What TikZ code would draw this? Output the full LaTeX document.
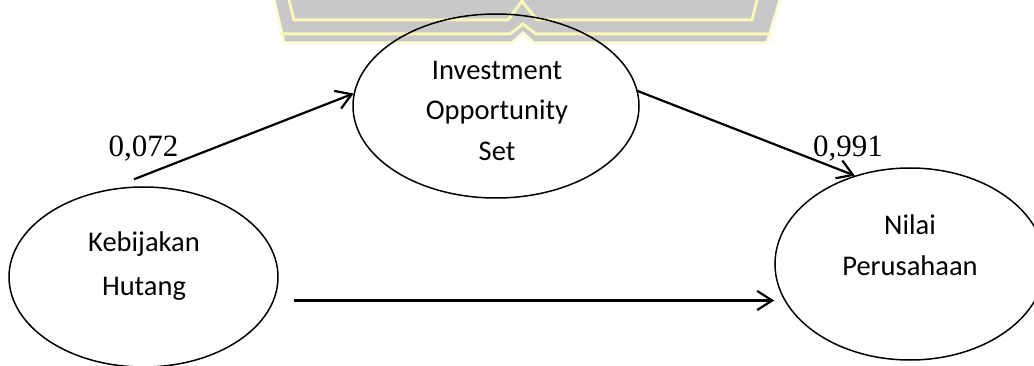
\documentclass[tikz,border=0pt]{standalone}
\usepackage{fontspec}
\usetikzlibrary{shapes.geometric,arrows.meta,calc}
\newfontfamily\calfont{Carlito}
\newfontfamily\timesfont{Liberation Serif}
\definecolor{wmgray}{RGB}{200,200,200}
\definecolor{wmyellow}{RGB}{250,248,185}
\tikzset{
  latent/.style={draw=black, ellipse, line width=1.5pt, inner sep=0pt},
  lbl/.style={anchor=base, inner sep=0pt, font=\calfont\fontsize{28.5}{34}\selectfont},
  coef/.style={anchor=base, inner sep=0pt, font=\timesfont\fontsize{31}{36}\selectfont},
  path/.style={draw=black, line width=2.2pt, -{Straight Barb[length=15pt,width=19pt]}},
  wmline/.style={draw=wmyellow, line width=3pt, line join=miter}
}
\begin{document}
\begin{tikzpicture}[x=1pt,y=-1pt]
\useasboundingbox (0,0) rectangle (1034,366);
% watermark fragment
\fill[wmgray] (274,0) -- (284,43) -- (512,43) -- (523,33) -- (534,43) -- (767,43) -- (780,0) -- cycle;
\draw[draw=wmyellow!60, line width=3pt] (274,0) -- (284,43) -- (512,43) -- (523,33) -- (534,43) -- (767,43) -- (780,0);
\draw[wmline] (280,34) -- (510,34) -- (523,24) -- (536,34) -- (771,34);
\draw[wmline] (289,0) -- (294,20) -- (508,20) -- (522,1) -- (537,20) -- (752,20) -- (757,0);
% ellipses
\node[latent, minimum width=286pt, minimum height=184pt] (I) at (496,106) {};
\node[latent, minimum width=269pt, minimum height=180pt] (K) at (143.5,277) {};
\node[latent, minimum width=270pt, minimum height=192pt] (N) at (910,264) {};
% labels
\node[lbl] (I1) at (497,80) {Investment};
\node[lbl] (I2) at (497,120) {Opportunity};
\node[lbl] (I3) at (497,161) {Set};
\node[lbl] (K1) at (144,252) {Kebijakan};
\node[lbl] (K2) at (144,295) {Hutang};
\node[lbl] (N1) at (910,235) {Nilai};
\node[lbl] (N2) at (910,276) {Perusahaan};
% coefficients
\node[coef] (c1) at (143.5,157) {0,072};
\node[coef] (c2) at (848,157) {0,991};
% paths
\draw[path] ($(K.north)+(-9.5,-7)$) -- (I.175);
\draw[path] (I.6) -- (N.122);
\draw[path] ($(K.east)+(15,23.5)$) -- ($(N.west)+(0,36.5)$);
\end{tikzpicture}
\end{document}
